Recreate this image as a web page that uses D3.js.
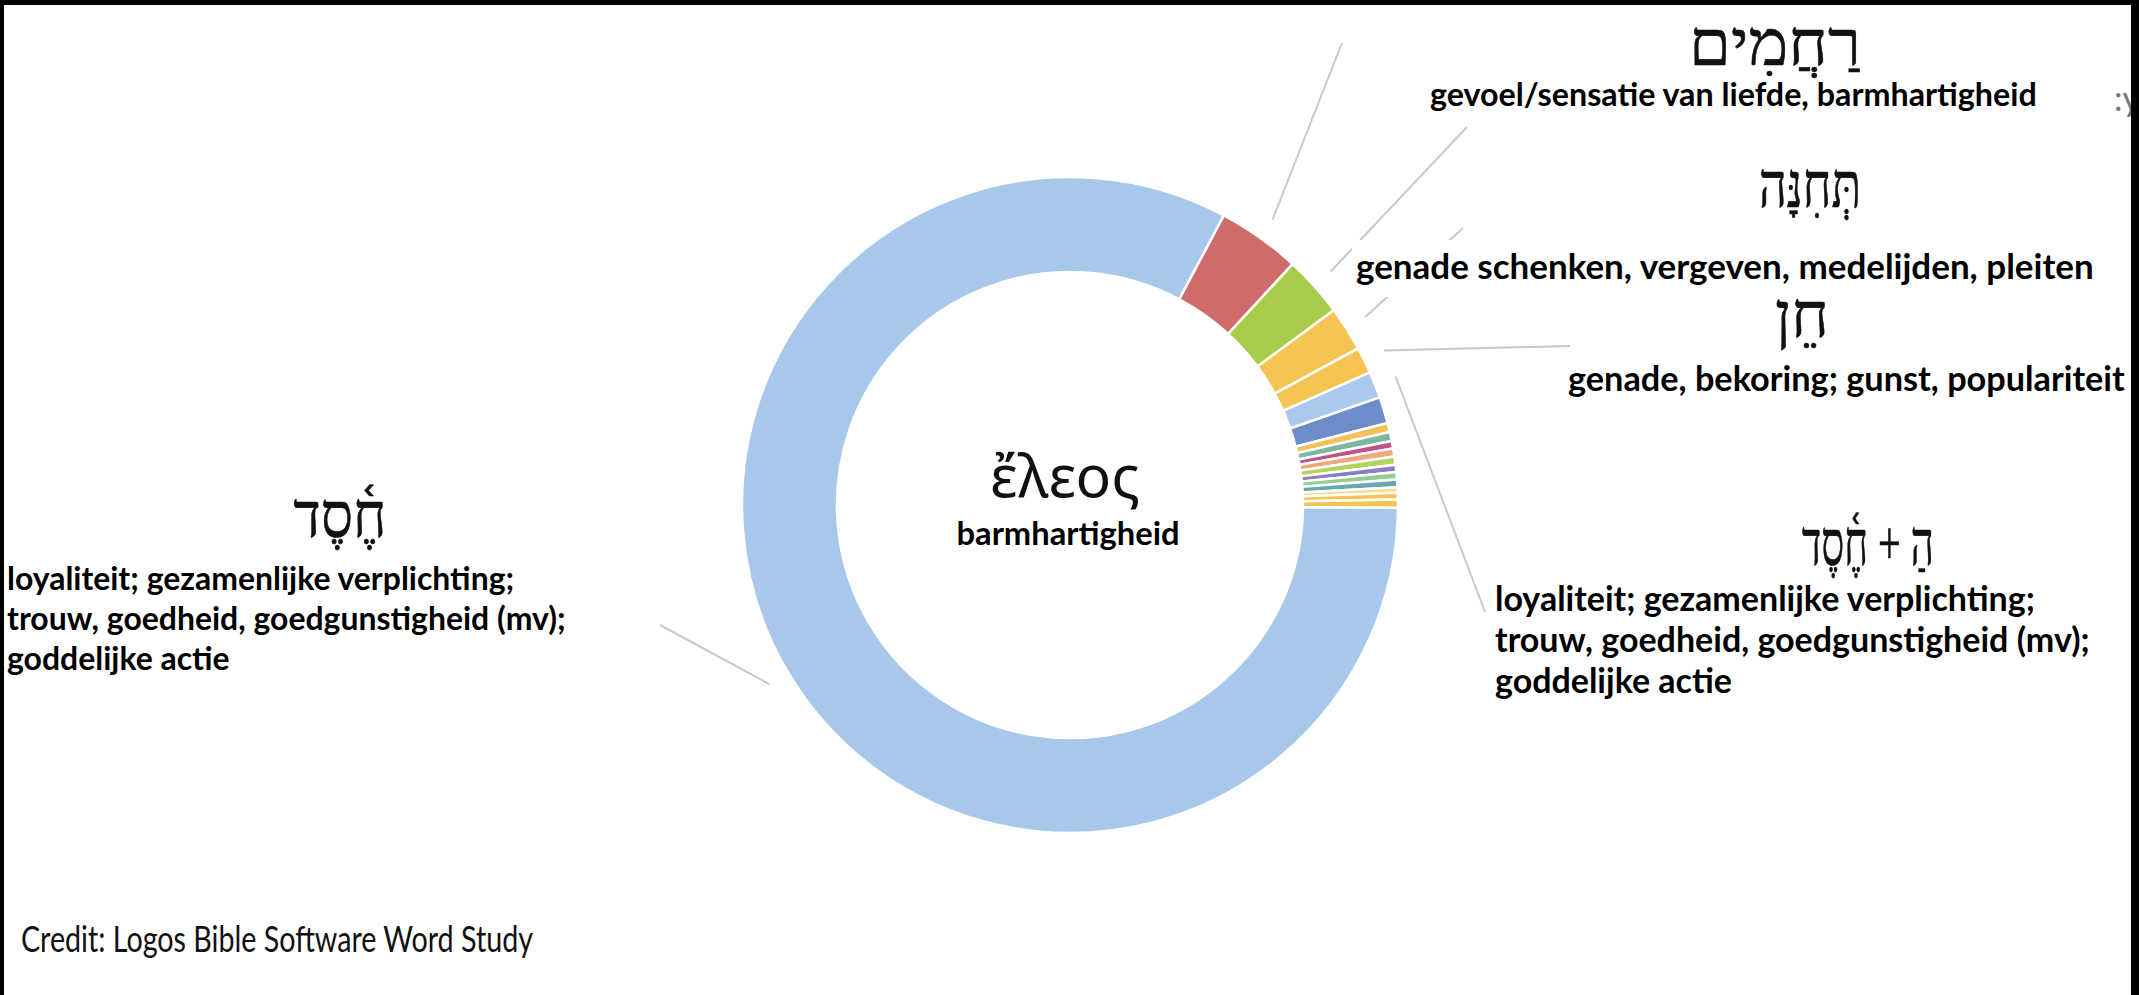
<!DOCTYPE html>
<html>
<head>
<meta charset="utf-8">
<script src="https://cdn.jsdelivr.net/npm/d3@7"></script>
<style>
  html, body { margin: 0; padding: 0; background: #fff; overflow: hidden; }
</style>
</head>
<body>
<svg id="chart"></svg>
<script>
const width = 2139;
const height = 995;

// slices of the donut, clockwise, starting with the big one
const categories = [
  "חֶסֶד", "רַחֲמִים", "תְּחִנָּה", "חֵן", "overig a", "הַ + חֶסֶד", "overig b",
  "overig 1", "overig 2", "overig 3", "overig 4", "overig 5", "overig 6",
  "overig 7", "overig 8", "overig 9", "overig 10", "overig 11"
];
const values = [
  82.6, 4.1, 3.0, 2.2, 1.3, 1.3, 1.3,
  0.45, 0.45, 0.36, 0.40, 0.40, 0.36, 0.36, 0.38, 0.27, 0.33, 0.40
];
const colors = [
  "#a7c8ea", "#cf6c6b", "#a8cb4a", "#f5c452", "#f5c452", "#aac9ec", "#6f8cca",
  "#f2c15a", "#7cb89c", "#bc5389", "#f0a97a", "#b3d35c", "#8a7dc1",
  "#92cf8f", "#66a9b2", "#f4dc8c", "#f5c452", "#f5c452"
];

// labels
const hebrew = ["רַחֲמִים", "תְּחִנָּה", "חֵן", "חֶ֫סֶד", "הַ + חֶ֫סֶד"];
const glosses = [
  ["gevoel/sensatie van liefde, barmhartigheid"],
  ["genade schenken, vergeven, medelijden, pleiten"],
  ["genade, bekoring; gunst, populariteit"],
  ["loyaliteit; gezamenlijke verplichting;", "trouw, goedheid, goedgunstigheid (mv);", "goddelijke actie"],
  ["loyaliteit; gezamenlijke verplichting;", "trouw, goedheid, goedgunstigheid (mv);", "goddelijke actie"]
];
const centerWord = "ἔλεος";
const centerGloss = "barmhartigheid";
const credit = "Credit: Logos Bible Software Word Study";

const cx = 1070, cy = 505;
const rOut = 328, rIn = 233, rLead = 350;
const start = 90.5 * Math.PI / 180;

const svg = d3.select("#chart")
    .attr("width", width)
    .attr("height", height);

svg.append("rect").attr("width", width).attr("height", height).attr("fill", "#fff");

const pie = d3.pie()
    .sort(null)
    .value(d => d)
    .startAngle(start)
    .endAngle(start + 2 * Math.PI);

const arcs = pie(values);

const arc = d3.arc().innerRadius(rIn).outerRadius(rOut);
const leadArc = d3.arc().innerRadius(rLead).outerRadius(rLead);

const ring = svg.append("g").attr("transform", `translate(${cx},${cy})`);

ring.selectAll("path")
    .data(arcs)
    .join("path")
    .attr("d", arc)
    .attr("fill", (d, i) => colors[i])
    .attr("stroke", "#fff")
    .attr("stroke-width", 2.5)
    .append("title").text((d, i) => categories[i]);

// leader lines: label end -> slice middle
const leaders = [
  { slice: 1, to: [1342, 43] },
  { slice: 2, to: [1467, 127] },
  { slice: 3, to: [1463, 228] },
  { slice: 4, to: [1570, 346] },
  { slice: 5, to: [1485, 612] },
  { slice: 0, to: [660, 625] }
];

svg.selectAll("line.leader")
    .data(leaders)
    .join("line")
    .attr("class", "leader")
    .attr("x1", d => d.to[0])
    .attr("y1", d => d.to[1])
    .attr("x2", d => cx + leadArc.centroid(arcs[d.slice])[0])
    .attr("y2", d => cy + leadArc.centroid(arcs[d.slice])[1])
    .attr("stroke", "#c9c9c9")
    .attr("stroke-width", 2);

// the pasted label box that cuts two of the lines
svg.append("rect")
    .attr("x", 1352).attr("y", 240)
    .attr("width", 750).attr("height", 57)
    .attr("fill", "#fff");

const fitText = (t, w) => {
  const cur = t.node().getComputedTextLength();
  t.attr("font-size", +t.attr("font-size") * w / cur);
  return +t.attr("font-size");
};

const hebFont = "'Liberation Serif', 'DejaVu Serif', serif";
const latFont = "Lato, 'Open Sans', sans-serif";

// hebrew words
const hebPos = [
  { x: 1775, y: 65, w: 172 },
  { x: 1810, y: 207, w: 102 },
  { x: 1802, y: 337, w: 54 },
  { x: 340, y: 537, w: 93 },
  { x: 1868, y: 565, w: 132 }
];
svg.selectAll("text.heb")
    .data(hebrew)
    .join("text")
    .attr("class", "heb")
    .attr("x", (d, i) => hebPos[i].x)
    .attr("y", (d, i) => hebPos[i].y)
    .attr("text-anchor", "middle")
    .attr("font-family", hebFont)
    .attr("font-size", 64)
    .attr("fill", "#111")
    .attr("stroke", "#111")
    .attr("stroke-width", 0.6)
    .attr("textLength", (d, i) => hebPos[i].w)
    .attr("lengthAdjust", "spacingAndGlyphs")
    .text(d => d);

// glosses
const glossPos = [
  { x: 1430, y: 106, w: 607, lh: 0 },
  { x: 1356, y: 279, w: 738, lh: 0 },
  { x: 1568, y: 391, w: 557, lh: 0 },
  { x: 7, y: 590, w: 559, lh: 40 },
  { x: 1495, y: 611, w: 595, lh: 41 }
];

glosses.forEach((lines, i) => {
  const p = glossPos[i];
  const ts = lines.map((s, j) => svg.append("text")
      .attr("x", p.x)
      .attr("y", p.y + j * p.lh)
      .attr("font-family", latFont)
      .attr("font-weight", 700)
      .attr("font-size", 30)
      .attr("fill", "#000")
      .text(s));
  // fit on the widest line, same size for the rest
  const ref = lines.length > 1 ? 1 : 0;
  const fs = fitText(ts[ref], p.w);
  ts.forEach(t => t.attr("font-size", fs));
});

// centre
const cw = svg.append("text")
    .attr("x", cx - 5).attr("y", 497)
    .attr("text-anchor", "middle")
    .attr("font-family", "'Noto Sans', 'DejaVu Sans', sans-serif")
    .attr("font-size", 60)
    .attr("fill", "#111")
    .text(centerWord);
fitText(cw, 150);

const cg = svg.append("text")
    .attr("x", cx - 2).attr("y", 545)
    .attr("text-anchor", "middle")
    .attr("font-family", latFont)
    .attr("font-weight", 700)
    .attr("font-size", 30)
    .attr("fill", "#000")
    .text(centerGloss);
fitText(cg, 223);

// credit line
const cr = svg.append("text")
    .attr("x", 21).attr("y", 952)
    .attr("font-family", latFont)
    .attr("font-size", 37)
    .attr("fill", "#111")
    .attr("textLength", 512)
    .attr("lengthAdjust", "spacingAndGlyphs")
    .text(credit);

// leftover of the original label, half under the frame
svg.append("text")
    .attr("x", 2114).attr("y", 111)
    .attr("font-family", latFont)
    .attr("font-size", 34)
    .attr("fill", "#777")
    .text(":y");

// black frame (top, left, right)
svg.append("rect").attr("x", 0).attr("y", 0).attr("width", width).attr("height", 5).attr("fill", "#000");
svg.append("rect").attr("x", 0).attr("y", 0).attr("width", 4).attr("height", height).attr("fill", "#000");
svg.append("rect").attr("x", 2131).attr("y", 0).attr("width", 8).attr("height", height).attr("fill", "#000");
</script>
</body>
</html>
